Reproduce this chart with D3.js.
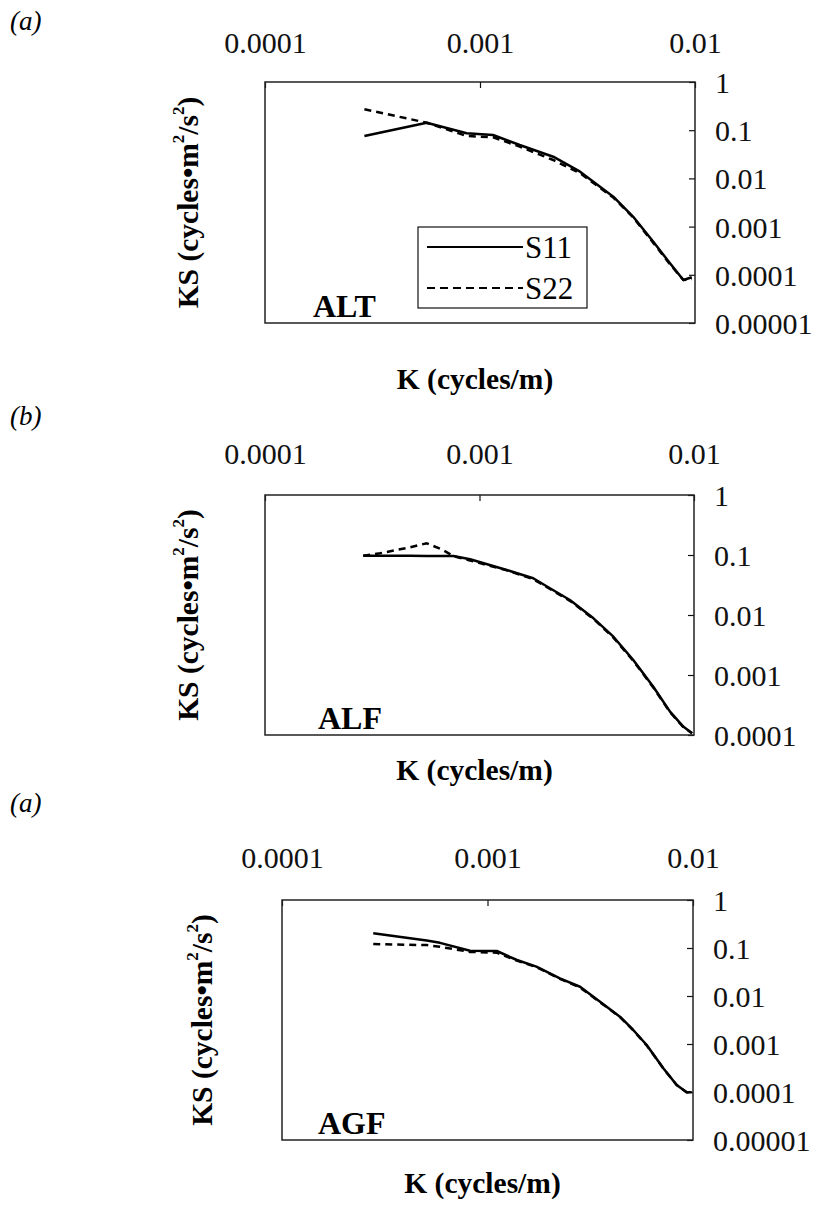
<!DOCTYPE html>
<html>
<head>
<meta charset="utf-8">
<script src="https://cdn.jsdelivr.net/npm/d3@7"></script>
<style>
  body { margin: 0; background: #fff; }
  svg { display: block; font-family: "Liberation Serif", "DejaVu Serif", serif; }
</style>
</head>
<body>
<div id="chart"></div>
<script>
// tick values and labels
const xTickValues = [1e-4, 1e-3, 1e-2];
const xTickLabels = ['0.0001', '0.001', '0.01'];
const yTickValuesFive = [1, 0.1, 0.01, 0.001, 0.0001, 0.00001];
const yTickLabelsFive = ['1', '0.1', '0.01', '0.001', '0.0001', '0.00001'];
const yTickValuesFour = [1, 0.1, 0.01, 0.001, 0.0001];
const yTickLabelsFour = ['1', '0.1', '0.01', '0.001', '0.0001'];
const seriesNames = ['S11', 'S22'];

// ALT
const altK = [2.9e-4, 5.65e-4, 8.67e-4, 1.15e-3, 1.53e-3, 2.19e-3, 2.92e-3, 4.17e-3, 5.16e-3, 6.40e-3, 7.65e-3, 8.83e-3, 9.66e-3];
const altS11 = [0.0758, 0.143, 0.0863, 0.0795, 0.0493, 0.0282, 0.0138, 0.00417, 0.0016, 0.000486, 0.000173, 0.000078, 0.000089];
const altS22 = [0.272, 0.143, 0.0758, 0.0713, 0.0455, 0.0241, 0.0128, 0.0040, 0.00155, 0.00046, 0.000165, 0.000078, 0.000082];

// ALF
const alfK = [2.87e-4, 3.44e-4, 4.74e-4, 5.67e-4, 6.67e-4, 7.55e-4, 9.04e-4, 1.34e-3, 1.78e-3, 2.13e-3, 2.64e-3, 3.40e-3, 4.21e-3, 5.21e-3, 6.46e-3, 7.73e-3, 8.91e-3, 9.8e-3];
const alfS11 = [0.0973, 0.0971, 0.0968, 0.0966, 0.0963, 0.096, 0.0848, 0.0562, 0.0409, 0.0279, 0.0178, 0.00881, 0.00435, 0.00178, 0.000638, 0.000245, 0.000138, 0.000107];
const alfS22 = [0.0973, 0.107, 0.134, 0.157, 0.124, 0.096, 0.081, 0.0555, 0.0395, 0.0272, 0.0172, 0.0086, 0.0042, 0.00172, 0.00062, 0.00024, 0.000135, 0.000107];

// AGF
const agfK = [2.78e-4, 5.06e-4, 5.87e-4, 8.22e-4, 1.11e-3, 1.39e-3, 1.73e-3, 2.25e-3, 2.82e-3, 3.53e-3, 4.41e-3, 5.12e-3, 5.95e-3, 7.17e-3, 8.33e-3, 9.31e-3, 9.86e-3];
const agfS11 = [0.202, 0.143, 0.128, 0.0879, 0.0866, 0.0562, 0.0408, 0.0234, 0.0156, 0.0076, 0.00371, 0.00196, 0.000953, 0.000312, 0.00014, 0.0000986, 0.0000986];
const agfS22 = [0.121, 0.115, 0.106, 0.083, 0.080, 0.0545, 0.040, 0.0228, 0.0150, 0.0074, 0.00365, 0.00192, 0.00094, 0.00031, 0.00014, 0.0000986, 0.0000986];

const panels = [
  { tag: '(a)', name: 'ALT', k: altK, s11: altS11, s22: altS22, yTicks: yTickValuesFive, yLabels: yTickLabelsFive,
    left: 265, right: 695, top: 82, bottom: 323, tagY: 30, topLabelY: 53, xTitleY: 389, ksX: 188, legend: true, nameX: 313 },
  { tag: '(b)', name: 'ALF', k: alfK, s11: alfS11, s22: alfS22, yTicks: yTickValuesFour, yLabels: yTickLabelsFour,
    left: 265, right: 694, top: 495, bottom: 735, tagY: 425, topLabelY: 464, xTitleY: 780, ksX: 188, legend: false, nameX: 318 },
  { tag: '(a)', name: 'AGF', k: agfK, s11: agfS11, s22: agfS22, yTicks: yTickValuesFive, yLabels: yTickLabelsFive,
    left: 282, right: 693, top: 900, bottom: 1140, tagY: 812, topLabelY: 868, xTitleY: 1193, ksX: 202, legend: false, nameX: 318 }
];

const W = 817, H = 1222;
const svg = d3.select('#chart').append('svg').attr('width', W).attr('height', H);

panels.forEach(p => {
  const g = svg.append('g');
  const x = d3.scaleLog().domain([1e-4, 1e-2]).range([p.left, p.right]);
  const y = d3.scaleLog().domain([d3.min(p.yTicks), 1]).range([p.bottom, p.top]);

  // panel tag
  g.append('text')
    .attr('x', 10).attr('y', p.tagY)
    .attr('font-size', 27).attr('font-style', 'italic')
    .text(p.tag);

  // top axis
  const xAxis = d3.axisTop(x).tickValues(xTickValues).tickSize(-6).tickPadding(0)
    .tickFormat((d, i) => xTickLabels[i]);
  const xg = g.append('g').attr('transform', `translate(0,${p.top})`).call(xAxis);
  xg.attr('font-family', null);
  xg.select('.domain').remove();
  xg.selectAll('line').attr('stroke', '#111').attr('stroke-width', 1.2);
  xg.selectAll('text')
    .attr('y', p.topLabelY - p.top).attr('dy', 0)
    .attr('font-size', 30).attr('fill', '#111');

  // right axis
  const yAxis = d3.axisRight(y).tickValues(p.yTicks).tickSize(-6).tickPadding(0)
    .tickFormat((d, i) => p.yLabels[i]);
  const yg = g.append('g').attr('transform', `translate(${p.right},0)`).call(yAxis);
  yg.attr('font-family', null);
  yg.select('.domain').remove();
  yg.selectAll('line').attr('stroke', '#111').attr('stroke-width', 1.2);
  yg.selectAll('text')
    .attr('x', 20).attr('dy', '0.35em')
    .attr('text-anchor', 'start')
    .attr('font-size', 30).attr('fill', '#111');

  // frame
  g.append('rect')
    .attr('x', p.left).attr('y', p.top)
    .attr('width', p.right - p.left).attr('height', p.bottom - p.top)
    .attr('fill', 'none').attr('stroke', '#222').attr('stroke-width', 1.5);

  const line = d3.line()
    .x(d => x(d[0]))
    .y(d => y(d[1]));

  g.append('path')
    .datum(p.k.map((k, i) => [k, p.s22[i]]))
    .attr('d', line)
    .attr('fill', 'none').attr('stroke', '#000')
    .attr('stroke-width', 2.5).attr('stroke-dasharray', '7,5');

  g.append('path')
    .datum(p.k.map((k, i) => [k, p.s11[i]]))
    .attr('d', line)
    .attr('fill', 'none').attr('stroke', '#000')
    .attr('stroke-width', 2.5).attr('stroke-linejoin', 'round');

  // inner label
  g.append('text')
    .attr('x', p.nameX).attr('y', p.bottom - 6)
    .attr('font-size', 32).attr('font-weight', 'bold')
    .text(p.name);

  // axis titles
  g.append('text')
    .attr('x', (p.left + p.right) / 2 - 5).attr('y', p.xTitleY)
    .attr('text-anchor', 'middle')
    .attr('font-size', 29.5).attr('font-weight', 'bold')
    .text('K (cycles/m)');

  const ks = g.append('text')
    .attr('transform', `translate(${p.ksX},${(p.top + p.bottom) / 2}) rotate(-90)`)
    .attr('text-anchor', 'middle').attr('dominant-baseline', 'central')
    .attr('font-size', 29.5).attr('font-weight', 'bold');
  ks.append('tspan').text('KS (cycles\u2022m');
  ks.append('tspan').attr('font-size', 17).attr('dy', -10).text('2');
  ks.append('tspan').attr('dy', 10).text('/s');
  ks.append('tspan').attr('font-size', 17).attr('dy', -10).text('2');
  ks.append('tspan').attr('dy', 10).text(')');

  if (p.legend) {
    const lg = g.append('g').attr('class', 'legend');
    lg.append('rect')
      .attr('x', 418).attr('y', 227).attr('width', 169).attr('height', 81)
      .attr('fill', '#fff').attr('stroke', '#111').attr('stroke-width', 1.2);
    seriesNames.forEach((name, i) => {
      const ly = 247 + i * 41;
      lg.append('line')
        .attr('x1', 427).attr('x2', 523).attr('y1', ly).attr('y2', ly)
        .attr('stroke', '#000').attr('stroke-width', 2)
        .attr('stroke-dasharray', i === 1 ? '8,5' : null);
      lg.append('text')
        .attr('x', 525).attr('y', ly).attr('dy', '0.35em')
        .attr('font-size', 31)
        .text(name);
    });
  }
});
</script>
</body>
</html>
